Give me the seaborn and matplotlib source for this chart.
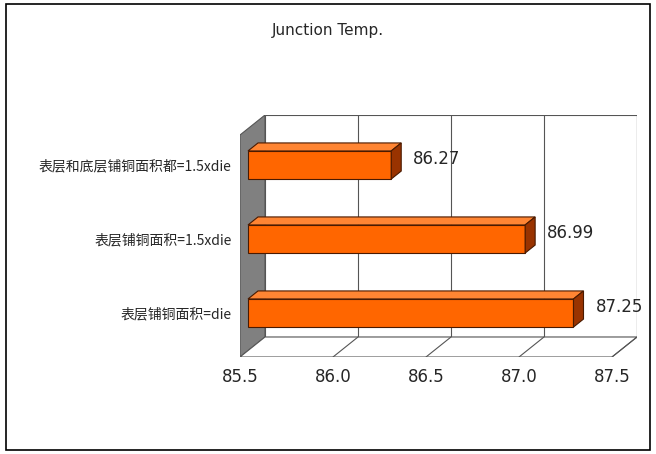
import matplotlib
matplotlib.use("Agg")
import matplotlib.pyplot as plt
import seaborn as sns
import pandas as pd
from matplotlib.patches import Polygon, Rectangle

categories = ["表层和底层铺铜面积都=1.5xdie", "表层铺铜面积=1.5xdie", "表层铺铜面积=die"]
values = [86.27, 86.99, 87.25]
xticks = [85.5, 86.0, 86.5, 87.0, 87.5]

sns.set_style("white")
plt.rcParams['font.family'] = ['Noto Sans CJK SC', 'DejaVu Sans']

fig = plt.figure(figsize=(6.56, 4.54), dpi=100)
fig.patches.append(Rectangle((6 / 656, 4 / 454), 644 / 656, 446 / 454, transform=fig.transFigure,
                             fill=False, edgecolor='black', linewidth=1.2))
fig.text(0.5, 1 - 31 / 454, "Junction Temp.", ha='center', va='center', fontsize=11, family='DejaVu Sans')

ax = fig.add_axes([240 / 656, 1 - 357 / 454, 397 / 656, 242 / 454])
df = pd.DataFrame({'cat': categories, 'val': values})
sns.barplot(data=df, x='val', y='cat', orient='h', color='#FF6600', width=0.38,
            edgecolor='#4a1a00', linewidth=0.8, saturation=1, ax=ax, zorder=3)

xmin, xmax = xticks[0], xticks[-1]
px = (xmax - xmin) / 372          # data units per pixel (x)
py = 1 / 74                       # data units per pixel (y)
dx, dy = 25 * px, 20 * py         # wall depth
floor = 2 + 44 * py
top = floor - 242 * py
ax.set_xlim(xmin, xmin + 397 * px)
ax.set_ylim(floor, top)

# walls
ax.add_patch(Polygon([(xmin + dx, floor - dy), (xmax + dx, floor - dy), (xmax + dx, top), (xmin + dx, top)],
                     facecolor='white', edgecolor='#555555', linewidth=0.8, zorder=0))
ax.add_patch(Polygon([(xmin, floor), (xmin + dx, floor - dy), (xmin + dx, top), (xmin, top + dy)],
                     facecolor='#808080', edgecolor='#555555', linewidth=0.8, zorder=1))
ax.add_patch(Polygon([(xmin, floor), (xmax, floor), (xmax + dx, floor - dy), (xmin + dx, floor - dy)],
                     facecolor='white', edgecolor='#555555', linewidth=0.8, zorder=1))
for t in xticks[1:]:
    ax.plot([t + dx, t + dx], [floor - dy, top], color='#555555', lw=0.8, zorder=0.5)
    ax.plot([t, t + dx], [floor, floor - dy], color='#555555', lw=0.8, zorder=1.5)

# 3D bar faces
sx, bdx, bdy = 8 * px, 10 * px, 8 * py
for p, v in zip(ax.patches[:len(values)], values):
    y0, h = p.get_y(), p.get_height()
    p.set_x(xmin + sx)
    p.set_width(v - xmin)
    x1 = v + sx
    ax.add_patch(Polygon([(xmin + sx, y0), (x1, y0), (x1 + bdx, y0 - bdy), (xmin + sx + bdx, y0 - bdy)],
                         facecolor='#FF8533', edgecolor='#4a1a00', lw=0.8, zorder=3))
    ax.add_patch(Polygon([(x1, y0), (x1 + bdx, y0 - bdy), (x1 + bdx, y0 + h - bdy), (x1, y0 + h)],
                         facecolor='#993300', edgecolor='#4a1a00', lw=0.8, zorder=3))
    ax.text(x1 + 22 * px, y0 + h / 2 - 6 * py, f"{v:.2f}", fontsize=12, va='center', ha='left',
            family='DejaVu Sans', zorder=4)

ax.set_xticks(xticks)
ax.set_xticklabels([f"{t:.1f}" for t in xticks], fontsize=12, family='DejaVu Sans')
ax.tick_params(axis='x', length=0, pad=8)
ax.tick_params(axis='y', length=0, pad=6, labelsize=10)
ax.set_xlabel("")
ax.set_ylabel("")
for s in ax.spines.values():
    s.set_visible(False)
ax.patch.set_alpha(0)

fig.savefig("out.png", dpi=100)
